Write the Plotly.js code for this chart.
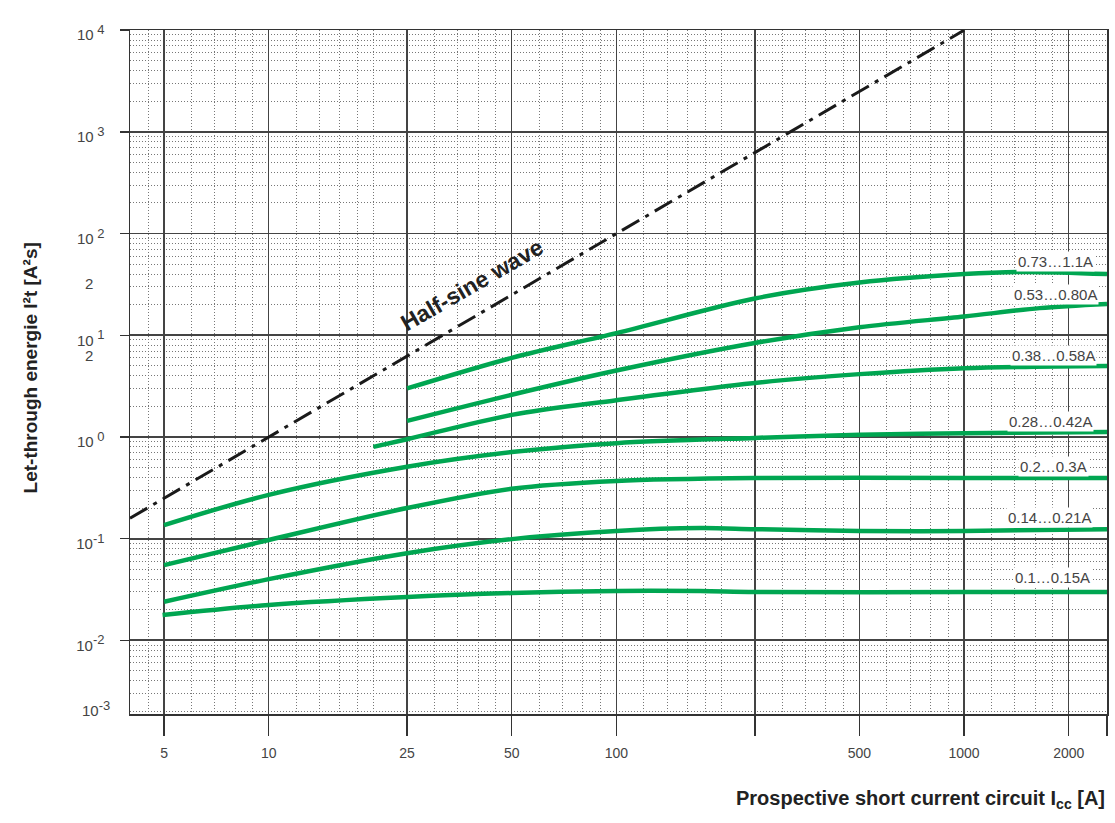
<!DOCTYPE html>
<html>
<head>
<meta charset="utf-8">
<script src="https://cdn.plot.ly/plotly-3.0.1.min.js"></script>
<style>html,body{margin:0;padding:0;background:#fff;}#chart{width:1115px;height:823px;}</style>
</head>
<body>
<div id="chart"></div>
<script>
// ---- data ----
const xTickVals = [5, 10, 25, 50, 100, 250, 500, 1000, 2000, 2577];
const xTickText = ['5', '10', '25', '50', '100', '', '500', '1000', '2000', ''];
const xMinorVals = [4.5, 6, 7, 8, 9, 12, 14, 16, 18, 20, 30, 35, 40, 45, 60, 70, 80, 90,
  120, 140, 160, 180, 200, 300, 350, 400, 450, 600, 700, 800, 900, 1200, 1400, 1600, 1800];

const yTickVals = [0.01, 0.1, 1, 10, 100, 1000, 10000];
const yTickExp = ['-2', '-1', ' 0', ' 1', ' 2', ' 3', ' 4'];
const yBottomExp = '-3';
const yMinorVals = [0.002, 0.003, 0.004, 0.005, 0.006, 0.007, 0.008, 0.009,
  0.02, 0.03, 0.04, 0.05, 0.06, 0.07, 0.08, 0.09,
  0.2, 0.3, 0.4, 0.5, 0.6, 0.7, 0.8, 0.9,
  2, 3, 4, 5, 6, 7, 8, 9,
  20, 30, 40, 50, 60, 70, 80, 90,
  200, 300, 400, 500, 600, 700, 800, 900,
  2000, 3000, 4000, 5000, 6000, 7000, 8000, 9000];

const seriesLabels = ['0.73…1.1A', '0.53…0.80A', '0.38…0.58A', '0.28…0.42A', '0.2…0.3A', '0.14…0.21A', '0.1…0.15A'];

const c1X = [25, 50, 100, 250, 500, 1000, 1500, 2577];
const c1Y = [3.0, 6.0, 10.5, 23, 33, 40, 42, 40];
const c2X = [25, 50, 100, 250, 500, 1000, 1650, 2577];
const c2Y = [1.44, 2.6, 4.5, 8.4, 12.0, 15.3, 18.5, 20.3];
const c3X = [20, 25, 50, 100, 250, 500, 1000, 2577];
const c3Y = [0.80, 0.95, 1.65, 2.3, 3.4, 4.15, 4.75, 5.0];
const c4X = [5, 10, 25, 50, 100, 250, 500, 1000, 2577];
const c4Y = [0.136, 0.27, 0.51, 0.71, 0.87, 0.98, 1.05, 1.09, 1.12];
const c5X = [5, 10, 25, 50, 100, 250, 1000, 2577];
const c5Y = [0.055, 0.097, 0.20, 0.31, 0.37, 0.395, 0.395, 0.395];
const c6X = [5, 10, 25, 50, 100, 174, 250, 500, 1000, 2577];
const c6Y = [0.024, 0.040, 0.072, 0.099, 0.119, 0.127, 0.124, 0.119, 0.119, 0.124];
const c7X = [4.95, 10, 25, 50, 100, 174, 250, 1000, 2577];
const c7Y = [0.0178, 0.0223, 0.0267, 0.0292, 0.0306, 0.0306, 0.0299, 0.0299, 0.0299];

const sineX = [3.99, 1000];
const sineY = [0.159, 10000];
const sineLabel = 'Half-sine wave';

// ---- styling / layout ----
const FONT = 'Liberation Sans, Arial, sans-serif';
const GREEN = '#00a651';
const curves = [[c1X, c1Y], [c2X, c2Y], [c3X, c3Y], [c4X, c4Y], [c5X, c5Y], [c6X, c6Y], [c7X, c7Y]];
const traces = curves.map((c, i) => ({
  x: c[0], y: c[1], type: 'scatter', mode: 'lines', name: seriesLabels[i],
  line: {color: GREEN, width: 4.5, shape: 'spline', smoothing: 0.9}
}));
traces.push({
  x: sineX, y: sineY, type: 'scatter', mode: 'lines', name: sineLabel,
  line: {color: '#1a1a1a', width: 3, dash: '20px,7px,4px,7px'}
});

const supText = e => '10<sup><span style="font-size:13px">' + e + '</span></sup>';
const yTickText = yTickExp.map(supText);

const labelY = [1.721, 1.406, 0.806, 0.157, -0.295, -0.796, -1.377];
const labelX = [0.988, 0.992, 0.990, 0.987, 0.982, 0.986, 0.985];
const annotations = seriesLabels.map((t, i) => ({
  text: t, xref: 'paper', yref: 'y', x: labelX[i], y: labelY[i],
  xanchor: 'right', yanchor: 'middle', showarrow: false,
  font: {family: FONT, size: 15, color: '#444'},
  bgcolor: '#ffffff', borderpad: 1
}));
annotations.push({
  text: '<b>' + sineLabel + '</b>', xref: 'x', yref: 'y', x: Math.log10(38.4), y: 1.495,
  showarrow: false, textangle: -30,
  font: {family: FONT, size: 23, color: '#222'}
});
annotations.push({
  text: '<b>Let-through energie I²t [A²s]</b>', xref: 'paper', yref: 'paper',
  x: -0.1146, y: 0.506, textangle: -90, showarrow: false,
  font: {family: FONT, size: 19, color: '#222'}
});
annotations.push({
  text: '<b>Prospective short current circuit I<sub>cc</sub> [A]</b>', xref: 'paper', yref: 'paper',
  x: 1.0, y: -0.1257, xanchor: 'right', yanchor: 'middle', showarrow: false,
  font: {family: FONT, size: 20, color: '#222'}
});
annotations.push({
  text: supText(yBottomExp), xref: 'paper', yref: 'paper', x: -0.0185, y: 0.008,
  xanchor: 'right', yanchor: 'middle', showarrow: false,
  font: {family: FONT, size: 15, color: '#444'}
});
annotations.push({
  text: '2', xref: 'paper', yref: 'y', x: -0.048, y: 1.514, showarrow: false,
  font: {family: FONT, size: 15, color: '#444'}
});
annotations.push({
  text: '2', xref: 'paper', yref: 'y', x: -0.048, y: 0.797, showarrow: false,
  font: {family: FONT, size: 15, color: '#444'}
});

const layout = {
  width: 1115, height: 823,
  margin: {l: 130, r: 8, t: 30, b: 109},
  paper_bgcolor: '#ffffff', plot_bgcolor: '#ffffff',
  showlegend: false,
  xaxis: {
    type: 'log', range: [Math.log10(3.99), Math.log10(2577)],
    tickmode: 'array', tickvals: xTickVals, ticktext: xTickText,
    ticks: 'outside', ticklen: 20, tickwidth: 1.5, tickcolor: '#333',
    showgrid: true, gridcolor: '#444', gridwidth: 1.5,
    showline: true, linecolor: '#333', linewidth: 1.5, mirror: true,
    zeroline: false, tickfont: {family: FONT, size: 14, color: '#444'}, ticklabelstandoff: 6,
    minor: {tickmode: 'array', tickvals: xMinorVals, showgrid: true, gridcolor: '#777',
      griddash: '1px,2px', gridwidth: 1, ticks: ''}
  },
  yaxis: {
    type: 'log', range: [-2.724, 4.002],
    tickmode: 'array', tickvals: yTickVals, ticktext: yTickText,
    ticks: 'outside', ticklen: 9, tickwidth: 1.5, tickcolor: '#333',
    showgrid: true, gridcolor: '#444', gridwidth: 1.8,
    showline: true, linecolor: '#333', linewidth: 1.5, mirror: true,
    zeroline: false, tickfont: {family: FONT, size: 15, color: '#444'},
    ticklabelstandoff: 12, ticklabelshift: 5,
    minor: {tickmode: 'array', tickvals: yMinorVals, showgrid: true, gridcolor: '#777',
      griddash: '1px,2px', gridwidth: 1, ticks: ''}
  },
  annotations: annotations
};

Plotly.newPlot('chart', traces, layout, {displayModeBar: false, staticPlot: true});
</script>
</body>
</html>
